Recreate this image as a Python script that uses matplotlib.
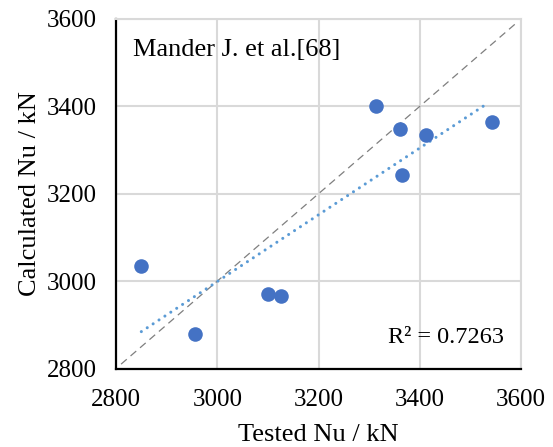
import numpy as np
import matplotlib
matplotlib.use("Agg")
import matplotlib.pyplot as plt

# ----------------------------
# Data
# ----------------------------
tested = [2850, 2957, 3101, 3126, 3314, 3361, 3365, 3413, 3543]
calculated = [3035, 2879, 2971, 2967, 3400, 3349, 3243, 3334, 3364]
ref_line = [2810, 3595]
ticks = [2800, 3000, 3200, 3400, 3600]
title_text = "Mander J. et al.[68]"
r2_text = "R² = 0.7263"

plt.rcParams["font.family"] = ["Liberation Serif", "DejaVu Serif"]

fig = plt.figure(figsize=(5.53, 4.47), dpi=100)
ax = fig.add_axes([0.2098, 0.1756, 0.7323, 0.7819])

# grid
ax.set_axisbelow(True)
ax.grid(True, color="#d9d9d9", linewidth=1.5)

# y = x reference
ax.plot(ref_line, ref_line, color="#7f7f7f", lw=0.9, dashes=(6, 4), zorder=2)

# linear trendline
k, b = np.polyfit(tested, calculated, 1)
xs = np.array([min(tested), max(tested) - 9])
ax.plot(xs, k * xs + b, color="#5b9bd5", lw=2.2, linestyle=(0, (0.01, 2.3)),
        dash_capstyle="round", zorder=3)

# points
ax.scatter(tested, calculated, s=110, color="#4472c4", zorder=4, linewidths=0)

ax.set_xlim(2800, 3600)
ax.set_ylim(2800, 3600)
ax.set_xticks(ticks)
ax.set_yticks(ticks)
ax.tick_params(length=0, labelsize=18)
ax.tick_params(axis="x", pad=15)
ax.tick_params(axis="y", pad=14)

for side in ("top", "right"):
    ax.spines[side].set_color("#d9d9d9")
    ax.spines[side].set_linewidth(1.5)
for side in ("left", "bottom"):
    ax.spines[side].set_color("black")
    ax.spines[side].set_linewidth(1.6)

ax.set_xlabel("Tested Nu / kN", fontsize=19, labelpad=9)
ax.set_ylabel("Calculated Nu / kN", fontsize=19, labelpad=4)

ax.text(0.041, 0.911, title_text, transform=ax.transAxes, fontsize=19,
        va="center", ha="left")
ax.text(0.957, 0.088, r2_text, transform=ax.transAxes, fontsize=17.5,
        va="center", ha="right")

fig.savefig("out.png", dpi=100)
